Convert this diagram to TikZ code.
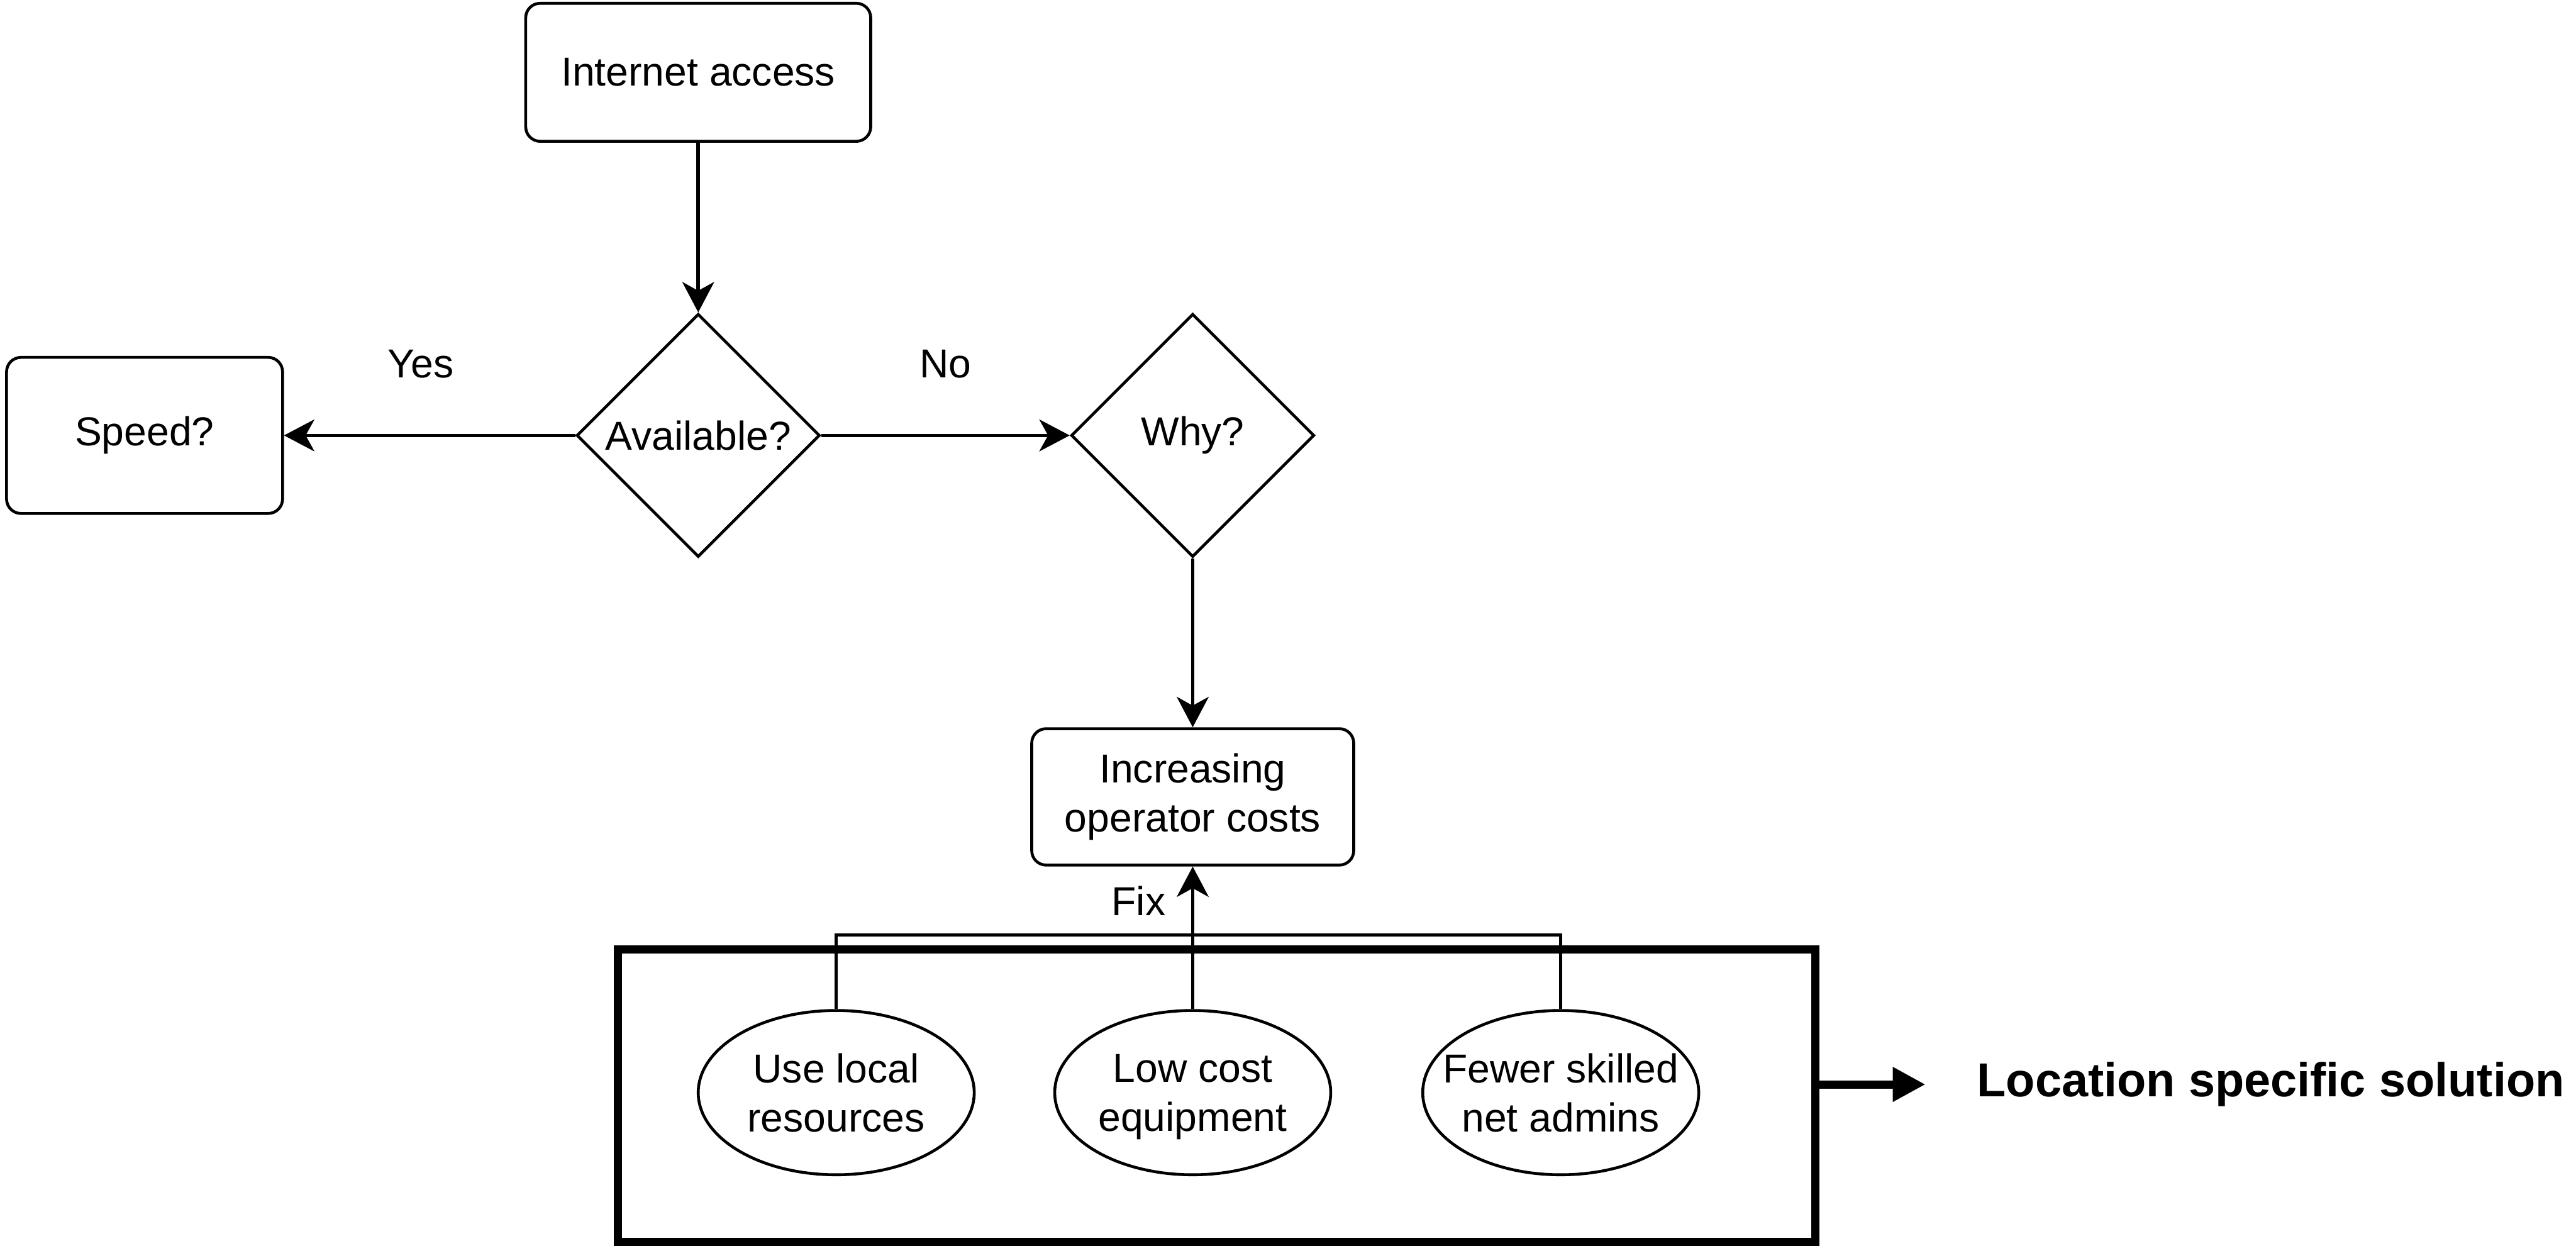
\documentclass[tikz,border=0pt]{standalone}
\usepackage{fontspec}
\setmainfont{Liberation Sans}
\usetikzlibrary{arrows.meta, positioning, shapes.geometric}

\begin{document}
\begin{tikzpicture}[x=0.02cm, y=-0.02cm, every node/.style={font=\fontsize{14}{17}\selectfont},
  flowbox/.style={draw, line width=1pt, rounded corners=5pt, align=center, inner sep=0pt},
  decision/.style={draw, diamond, line width=1pt, inner sep=0pt, minimum width=148*0.02cm, minimum height=148*0.02cm},
  idea/.style={draw, ellipse, line width=1pt, inner sep=0pt, minimum width=168*0.02cm, minimum height=100*0.02cm},
  flow/.style={-{Stealth[length=10.5pt, width=11pt, inset=3pt]}, line width=1.2pt}]
  \useasboundingbox (0,0) rectangle (1568,758);
  % question boxes
  \node[flowbox, minimum width=210*0.02cm, minimum height=84*0.02cm] (net) at (425,44) {Internet access};
  \node[decision, label=center:{Available?}] (avail) at (425,265) {};
  \node[flowbox, minimum width=168*0.02cm, minimum height=95*0.02cm] (speed) at (88,265) {Speed?};
  \node[decision, label=center:{Why?}] (why) at (726,265) {};
  \node[flowbox, minimum width=196*0.02cm, minimum height=83*0.02cm] (cost) at (726,485) {Increasing\\operator costs};
  % fixes
  \draw[line width=2.8pt] (376,578) rectangle (1105,756);
  \node[idea] (local) at (509,665) {};
  \node[align=center] at (local) {Use local\\resources};
  \node[idea] (equip) at (726,665) {};
  \node[align=center] at ([yshift=-1.5]equip) {Low cost\\equipment};
  \node[idea] (admin) at (950,665) {};
  \node[align=center] at (admin) {Fewer skilled\\net admins};
  \node[anchor=west, inner sep=0pt, font=\fontsize{16.5}{20}\selectfont\bfseries] (loc) at (1203,660) {Location specific solution};
  % connectors
  \draw[flow] (net) -- (avail);
  \draw[flow] (avail) -- node[pos=0.53, above=16pt] {Yes} (speed);
  \draw[flow] (avail) -- node[pos=0.5, above=16pt] {No} (why);
  \draw[flow] (why) -- (cost);
  \draw[flow] (equip) -- node[pos=0.76, left=5.5pt] {Fix} (cost);
  \draw[line width=1.1pt] (local.north) -- ++(0,-45) -| (admin.north);
  \draw[-{Triangle[length=11.3pt, width=11.3pt]}, line width=2.8pt] (loc.west -| 1105,0) -- (loc.west -| 1172,0);
\end{tikzpicture}
\end{document}
